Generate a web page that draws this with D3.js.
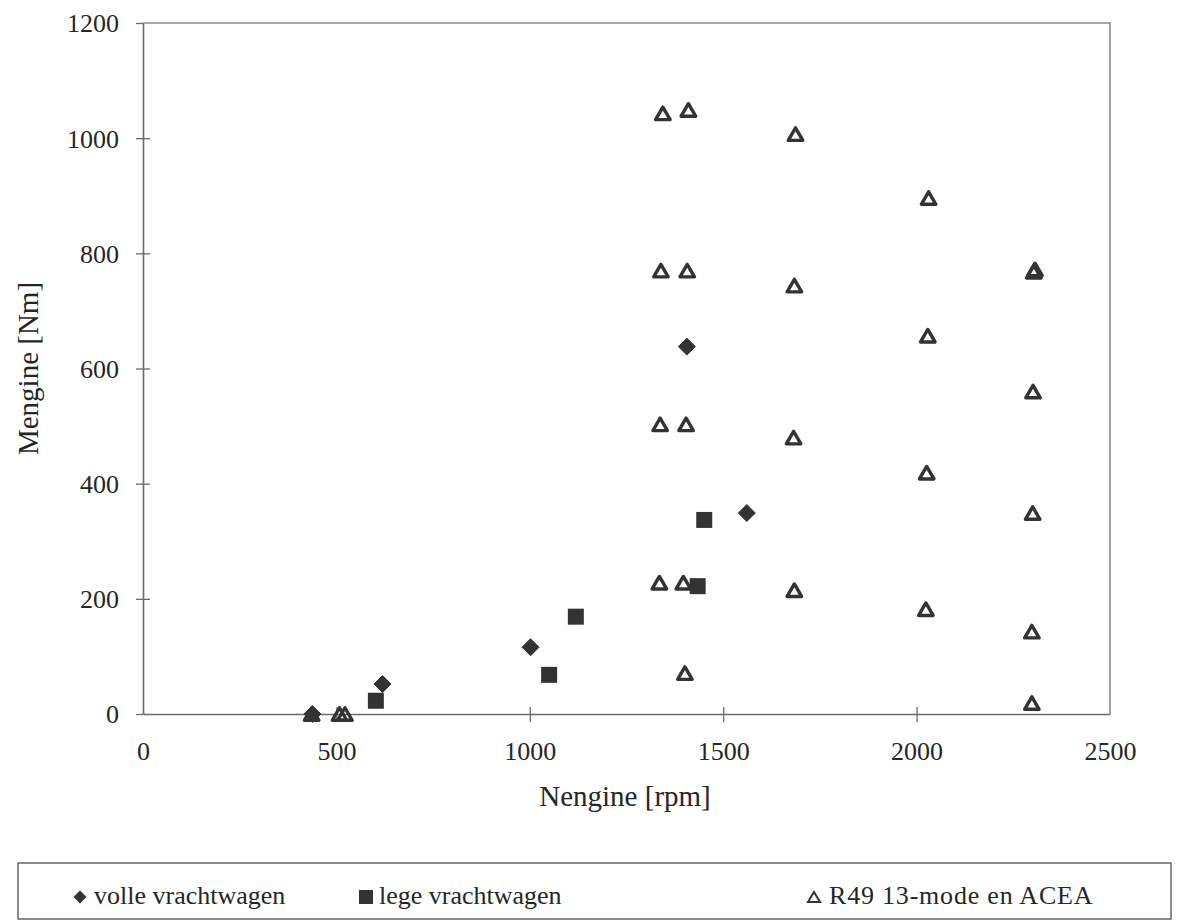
<!DOCTYPE html>
<html>
<head>
<meta charset="utf-8">
<script src="https://cdn.jsdelivr.net/npm/d3@7"></script>
<style>
  html, body { margin: 0; padding: 0; background: #fff; }
  svg text { font-family: "Liberation Serif", "Times New Roman", Times, "DejaVu Serif", serif !important; fill: #262626; }
</style>
</head>
<body>
<svg id="chart" width="1178" height="924"></svg>
<script>
// Engine speed [rpm] and engine torque [Nm] per measurement set
const volleRpm = [438, 619, 1002, 1406, 1561];
const volleNm  = [0, 52, 116, 638, 349];

const legeRpm = [602, 1050, 1119, 1434, 1451];
const legeNm  = [23, 68, 169, 222, 337];

const r49Rpm = [436, 508, 522,
                1344, 1339, 1337, 1335,
                1410, 1407, 1404, 1397, 1401,
                1687, 1684, 1682, 1684,
                2031, 2029, 2026, 2024,
                2303, 2306, 2301, 2300, 2298, 2298];
const r49Nm  = [0, 0, 0,
                1043, 770, 503, 228,
                1049, 770, 503, 228, 71,
                1007, 744, 480, 215,
                896, 657, 419, 182,
                768, 772, 560, 349, 143, 19];

const xTicks = [0, 500, 1000, 1500, 2000, 2500];
const yTicks = [0, 200, 400, 600, 800, 1000, 1200];

const seriesNames = ["volle vrachtwagen", "lege vrachtwagen", "R49 13-mode en ACEA"];

const FONT = '"Liberation Serif", "Times New Roman", Times, "DejaVu Serif", serif';
const svg = d3.select("#chart");
const ink = "#333";
const axisGrey = "#6a6a6a";

const x = d3.scaleLinear().domain([0, 2500]).range([143, 1110]);
const y = d3.scaleLinear().domain([0, 1200]).range([714, 23]);

// plot frame (top and right edges)
svg.append("path")
  .attr("d", `M${x(0)},${y(1200)}H${x(2500)}V${y(0)}`)
  .attr("fill", "none").attr("stroke", "#8a8a8a").attr("stroke-width", 1.6);

// axes
const gx = svg.append("g").attr("transform", `translate(0,${y(0)})`)
  .call(d3.axisBottom(x).tickValues(xTicks).tickSizeOuter(0).tickSizeInner(7).tickFormat(d3.format("d")));
const gy = svg.append("g").attr("transform", `translate(${x(0)},0)`)
  .call(d3.axisLeft(y).tickValues(yTicks).tickSizeOuter(0).tickSizeInner(7).tickFormat(d3.format("d")));

[gx, gy].forEach(g => {
  g.attr("font-family", FONT);
  g.select(".domain").attr("stroke", axisGrey).attr("stroke-width", 1.6);
  g.selectAll(".tick line").attr("stroke", axisGrey).attr("stroke-width", 1.3);
  g.selectAll(".tick text").attr("font-size", 26).attr("fill", "#262626")
    .style("font-family", FONT);
});
// ticks cross the axis line
gx.selectAll(".tick line").attr("y1", -7).attr("y2", 8);
gy.selectAll(".tick line").attr("x1", -7).attr("x2", 7);
gx.selectAll(".tick").filter(d => d === 0 || d === 2500).select("line").remove();
gy.selectAll(".tick").filter(d => d === 0 || d === 1200).select("line").attr("x1", -7).attr("x2", 0);
gx.selectAll(".tick text").attr("y", 28).attr("dy", "0.71em");
gy.selectAll(".tick text").attr("x", -24).attr("dy", "0.34em");

// axis titles
svg.append("text").attr("x", 625).attr("y", 806).attr("text-anchor", "middle")
  .attr("font-size", 29).style("font-family", FONT).text("Nengine [rpm]");
svg.append("text").attr("transform", `translate(38,${y(600)}) rotate(-90)`)
  .attr("text-anchor", "middle").attr("font-size", 29).style("font-family", FONT).text("Mengine [Nm]");

// marker shapes
const diamondPath = s => `M0,${-s}L${s},0L0,${s}L${-s},0Z`;
const squarePath = s => `M${-s},${-s}H${s}V${s}H${-s}Z`;
const trianglePath = (w, h) => `M0,${-h / 2}L${w / 2},${h / 2}L${-w / 2},${h / 2}Z`;

const plot = svg.append("g");

// R49 triangles (hollow)
plot.selectAll("path.r49").data(d3.range(r49Rpm.length)).join("path")
  .attr("class", "r49")
  .attr("transform", i => `translate(${x(r49Rpm[i])},${y(r49Nm[i])})`)
  .attr("d", trianglePath(14.5, 12.5))
  .attr("fill", "none").attr("stroke", ink).attr("stroke-width", 3.4).attr("stroke-linejoin", "round");

// empty truck squares
plot.selectAll("path.lege").data(d3.range(legeRpm.length)).join("path")
  .attr("class", "lege")
  .attr("transform", i => `translate(${x(legeRpm[i])},${y(legeNm[i])})`)
  .attr("d", squarePath(8))
  .attr("fill", ink);

// full truck diamonds
plot.selectAll("path.volle").data(d3.range(volleRpm.length)).join("path")
  .attr("class", "volle")
  .attr("transform", i => `translate(${x(volleRpm[i])},${y(volleNm[i])})`)
  .attr("d", diamondPath(8.5))
  .attr("fill", ink).attr("stroke", ink).attr("stroke-width", 1).attr("stroke-linejoin", "round");

// legend
const legend = svg.append("g");
legend.append("rect").attr("x", 18).attr("y", 863).attr("width", 1153).attr("height", 56)
  .attr("fill", "none").attr("stroke", "#5a5a5a").attr("stroke-width", 1.4);

const legendItems = [
  { sx: 80, tx: 94, d: diamondPath(6.5), fill: ink, stroke: "none", sw: 0 },
  { sx: 366, tx: 379, d: squarePath(7), fill: ink, stroke: "none", sw: 0 },
  { sx: 814, tx: 829, d: trianglePath(12, 10), fill: "none", stroke: ink, sw: 2 }
];
legendItems.forEach((it, i) => {
  legend.append("path").attr("transform", `translate(${it.sx},897)`)
    .attr("d", it.d).attr("fill", it.fill).attr("stroke", it.stroke).attr("stroke-width", it.sw);
  legend.append("text").attr("x", it.tx).attr("y", 904).attr("font-size", 26)
    .attr("letter-spacing", i === 2 ? 0.8 : 0)
    .style("font-family", FONT).text(seriesNames[i]);
});
</script>
</body>
</html>
